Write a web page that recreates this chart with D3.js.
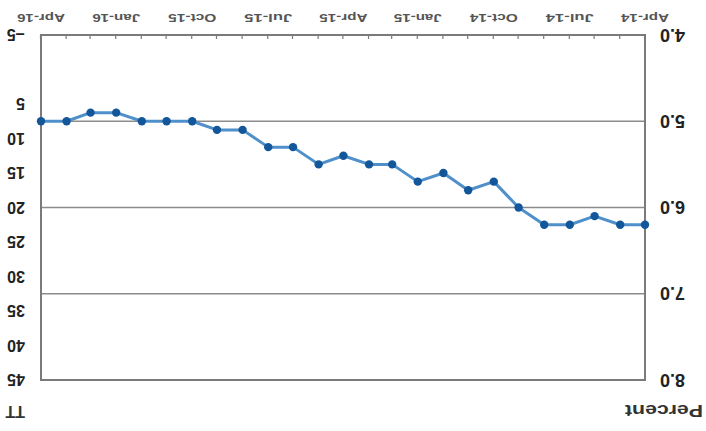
<!DOCTYPE html>
<html><head><meta charset="utf-8">
<script src="https://cdn.jsdelivr.net/npm/d3@7"></script>
<style>html,body{margin:0;padding:0;background:#fff;}svg{display:block;}</style>
</head><body>
<svg id="chart" width="706" height="431"></svg>
<script>
// Monthly data, Apr-14 .. Apr-16
const months = ["2014-04","2014-05","2014-06","2014-07","2014-08","2014-09","2014-10","2014-11","2014-12",
  "2015-01","2015-02","2015-03","2015-04","2015-05","2015-06","2015-07","2015-08","2015-09","2015-10","2015-11","2015-12",
  "2016-01","2016-02","2016-03","2016-04"];
const rate = [6.2,6.2,6.1,6.2,6.2,6.0,5.7,5.8,5.6,5.7,5.5,5.5,5.4,5.5,5.3,5.3,5.1,5.1,5.0,5.0,5.0,4.9,4.9,5.0,5.0];
const xTickLabels = ["Apr-14","Jul-14","Oct-14","Jan-15","Apr-15","Jul-15","Oct-15","Jan-16","Apr-16"];
const leftTicks = [4.0,5.0,6.0,7.0,8.0];
const gridTicks = [5.0,6.0,7.0];
const rightTicks = [-5,5,10,15,20,25,30,35,40,45];
const leftTitle = "Percent";
const rightTitle = "TT";

const parse = d3.timeParse("%Y-%m");
const data = months.map((m,i)=>({date:parse(m), v:rate[i]}));

const W=706,H=431;
const L=61,R=665,T=51,B=396;
const svg = d3.select("#chart");
// reference image is upside down: draw upright chart then rotate 180deg
const g = svg.append("g").attr("transform",`rotate(180 ${W/2} ${H/2})`);

const x = d3.scaleTime().domain([data[0].date, data[data.length-1].date]).range([L,R]);
const y = d3.scaleLinear().domain([4,8]).range([B,T]);
const y2 = d3.scaleLinear().domain([-5,45]).range([B,T]);

// grid
g.append("g").selectAll("line").data(gridTicks).join("line")
  .attr("x1",L).attr("x2",R).attr("y1",d=>y(d)).attr("y2",d=>y(d))
  .attr("stroke","#8c8c8c").attr("stroke-width",1.6);

// frame
g.append("rect").attr("x",L).attr("y",T).attr("width",R-L).attr("height",B-T)
  .attr("fill","none").attr("stroke","#7a7a7a").attr("stroke-width",2);

// monthly ticks inward on bottom axis
const xAxis = d3.axisBottom(x).ticks(d3.timeMonth.every(1)).tickSize(-4).tickFormat("");
const xa = g.append("g").attr("transform",`translate(0,${B})`).call(xAxis);
xa.select(".domain").remove();
xa.selectAll(".tick line").attr("stroke","#7a7a7a").attr("stroke-width",1.2);

// x labels
const labelDates = xTickLabels.map((t,i)=>data[i*3].date);
g.append("g").selectAll("text").data(xTickLabels).join("text")
  .attr("x",(d,i)=>x(labelDates[i])).attr("y",417)
  .attr("text-anchor","middle")
  .attr("font-family","Liberation Sans, Arial, sans-serif").attr("font-size",10).attr("font-weight","bold")
  .attr("fill","#555")
  .attr("textLength",48).attr("lengthAdjust","spacingAndGlyphs")
  .text(d=>d);

// left axis labels
const yl = d3.axisLeft(y).tickValues(leftTicks).tickSize(0).tickPadding(15).tickFormat(d3.format(".1f"));
const yla = g.append("g").attr("transform",`translate(${L},0)`).call(yl);
yla.select(".domain").remove();
yla.selectAll("text").attr("font-family","Liberation Sans, Arial, sans-serif").attr("font-size",18)
  .attr("font-weight","bold").attr("fill","#222");

// right axis labels
const yr = d3.axisRight(y2).tickValues(rightTicks).tickSize(0).tickPadding(16).tickFormat(d3.format("d"));
const yra = g.append("g").attr("transform",`translate(${R},0)`).call(yr);
yra.select(".domain").remove();
yra.selectAll("text").attr("font-family","Liberation Sans, Arial, sans-serif").attr("font-size",16)
  .attr("font-weight","bold").attr("fill","#222");

// titles
g.append("text").attr("x",3).attr("y",26).attr("font-family","Liberation Sans, Arial, sans-serif")
  .attr("font-size",17).attr("font-weight","bold").attr("fill","#333")
  .attr("textLength",78).attr("lengthAdjust","spacingAndGlyphs").text(leftTitle);
g.append("text").attr("x",681).attr("y",25).attr("font-family","Liberation Sans, Arial, sans-serif")
  .attr("font-size",16).attr("font-weight","bold").attr("fill","#333").text(rightTitle);

// line
const line = d3.line().x(d=>x(d.date)).y(d=>y(d.v));
g.append("path").datum(data).attr("d",line).attr("fill","none")
  .attr("stroke","#4f8fca").attr("stroke-width",3).attr("stroke-linejoin","round");
g.append("g").selectAll("circle").data(data).join("circle")
  .attr("cx",d=>x(d.date)).attr("cy",d=>y(d.v)).attr("r",4.2).attr("fill","#13579a");
</script>
</body></html>
